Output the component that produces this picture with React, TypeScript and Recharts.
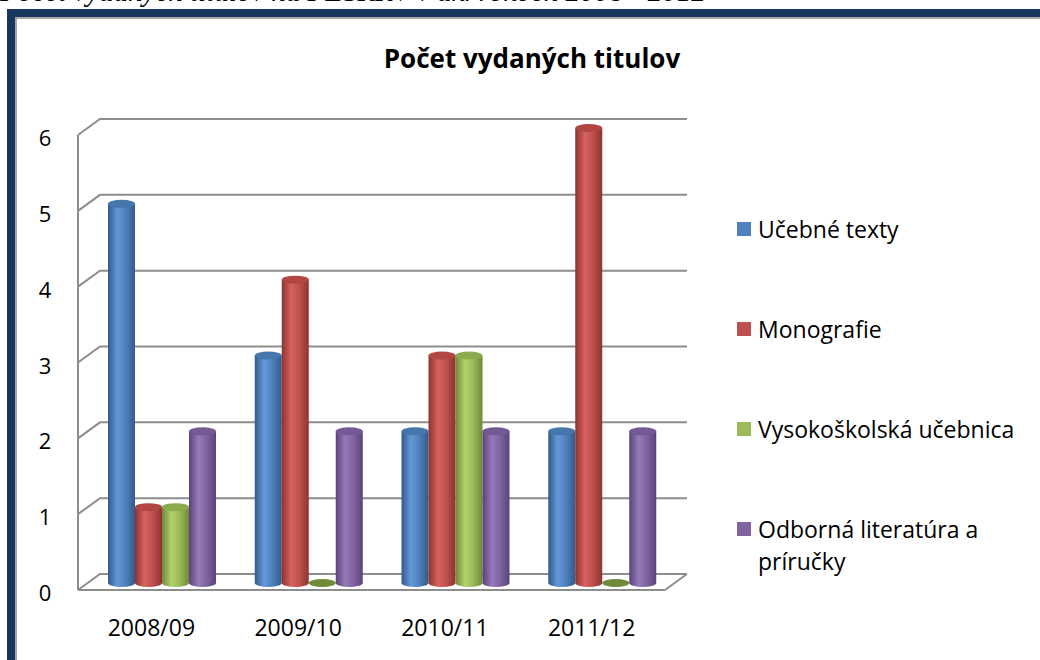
import React from 'react';
import { BarChart, Bar, XAxis, YAxis, CartesianGrid, Legend } from 'recharts';

const years = ['2008/09', '2009/10', '2010/11', '2011/12'];
const ucebneTexty = [5, 3, 2, 2];
const monografie = [1, 4, 3, 6];
const vysokoskolska = [1, 0, 3, 0];
const odborna = [2, 2, 2, 2];
const yTicks = [0, 1, 2, 3, 4, 5, 6];

const seriesNames = ['Učebné texty', 'Monografie', 'Vysokoškolská učebnica', 'Odborná literatúra a príručky'];
const seriesKeys = ['ucebne', 'mono', 'vs', 'odb'];
const baseColors = ['#4F81BD', '#C0504D', '#9BBB59', '#8064A2'];
const darkColors = ['#335a8a', '#8c3330', '#6f8a39', '#594379'];
const lightColors = ['#6398d9', '#d6625e', '#b2d16c', '#957ab8'];
const topColors = ['#4776ad', '#b24642', '#8cab4d', '#735a94'];

const data = years.map((year, i) => ({
  year,
  ucebne: ucebneTexty[i],
  mono: monografie[i],
  vs: vysokoskolska[i],
  odb: odborna[i],
}));

const W = 1040;
const H = 660;
const PLOT_TOP = 135;
const XAXIS_H = 70;
const PLOT_BOTTOM = H - XAXIS_H;
const DEPTH_X = 22;
const DEPTH_Y = 16;
const GRID = '#8d8d8d';
const FONT = '"Open Sans", "Noto Sans", sans-serif';

const GridLine = (props: any) => {
  const { x1, x2, y1 } = props;
  const isFloor = Math.abs(y1 - PLOT_BOTTOM) < 1;
  return (
    <g key={props.key}>
      <polyline
        points={`${x1},${y1} ${x1 + DEPTH_X},${y1 - DEPTH_Y} ${x2 + DEPTH_X},${y1 - DEPTH_Y}`}
        fill="none"
        stroke={GRID}
        strokeWidth={2}
      />
      {isFloor && (
        <line x1={x2} y1={y1} x2={x2 + DEPTH_X} y2={y1 - DEPTH_Y} stroke={GRID} strokeWidth={2} />
      )}
    </g>
  );
};

const Cylinder = (props: any) => {
  const { x, y, width, height, k } = props;
  const left = x + 11;
  const top = y - 7;
  const rx = width / 2;
  const ry = 4;
  if (!height || height < 1) {
    return <ellipse cx={left + rx} cy={top} rx={rx} ry={ry} fill={darkColors[k]} />;
  }
  const bottom = top + height;
  const right = left + width;
  return (
    <g>
      <path
        d={`M${left},${top} L${left},${bottom} A${rx},${ry} 0 0 0 ${right},${bottom} L${right},${top} Z`}
        fill={`url(#cyl-${k})`}
      />
      <ellipse cx={left + rx} cy={top} rx={rx} ry={ry} fill={topColors[k]} />
    </g>
  );
};

const YTick = (props: any) => {
  const { y, payload } = props;
  return (
    <text x={45} y={y + 2} textAnchor="middle" dominantBaseline="central" fontSize={22} fill="#000" fontFamily={FONT}>
      {payload.value}
    </text>
  );
};

const XTick = (props: any) => {
  const { x, payload } = props;
  return (
    <text x={x} y={PLOT_BOTTOM + 37} textAnchor="middle" dominantBaseline="central" fontSize={23} fill="#000" fontFamily={FONT}>
      {payload.value}
    </text>
  );
};

const LegendContent = (props: any) => {
  const items = [...(props.payload || [])].sort(
    (a: any, b: any) => seriesNames.indexOf(a.value) - seriesNames.indexOf(b.value)
  );
  return (
    <div style={{ fontFamily: FONT, fontSize: 23, color: '#000' }}>
      {items.map((item: any) => (
        <div key={item.value} style={{ height: 100, display: 'flex', alignItems: 'flex-start' }}>
          <span style={{ width: 14, height: 14, background: item.color, marginTop: 9, marginRight: 7, flex: 'none' }} />
          <span style={{ width: 272, lineHeight: '32px' }}>{item.value}</span>
        </div>
      ))}
    </div>
  );
};

export default function App() {
  return (
    <div style={{ position: 'fixed', left: 0, top: 0, width: W, height: H, overflow: 'hidden', background: '#fff' }}>
      <div
        style={{
          position: 'absolute',
          left: 0,
          top: -25,
          fontFamily: '"Liberation Serif", serif',
          fontStyle: 'italic',
          fontSize: 29,
          lineHeight: '32px',
          whiteSpace: 'nowrap',
        }}
      >
        Počet vydaných titulov na FESRRV v ak. rokoch 2008 - 2012
      </div>
      <div
        style={{
          position: 'absolute',
          left: 7,
          top: 9,
          width: W,
          height: H,
          borderLeft: '8px solid #17375e',
          borderTop: '8px solid #17375e',
          boxShadow: 'inset 2px 2px 0 #a6a6a6',
          background: '#fff',
        }}
      />
      <div
        style={{
          position: 'absolute',
          left: 0,
          top: 40,
          width: 1064,
          textAlign: 'center',
          fontFamily: FONT,
          fontWeight: 700,
          fontSize: 26,
          color: '#000',
        }}
      >
        Počet vydaných titulov
      </div>
      <div style={{ position: 'absolute', left: 0, top: 0 }}>
        <BarChart
          width={W}
          height={H}
          data={data}
          margin={{ top: PLOT_TOP, right: 75, bottom: 0, left: 0 }}
          barGap={0}
          barSize={27}
        >
          <defs>
            {baseColors.map((c, k) => (
              <linearGradient key={c} id={`cyl-${k}`} x1="0" y1="0" x2="1" y2="0">
                <stop offset="0%" stopColor={darkColors[k]} />
                <stop offset="35%" stopColor={lightColors[k]} />
                <stop offset="65%" stopColor={baseColors[k]} />
                <stop offset="100%" stopColor={darkColors[k]} />
              </linearGradient>
            ))}
          </defs>
          <CartesianGrid vertical={false} horizontal={GridLine} />
          <XAxis
            dataKey="year"
            height={XAXIS_H}
            tickLine={false}
            axisLine={{ stroke: GRID, strokeWidth: 2 }}
            tick={XTick}
          />
          <YAxis
            width={78}
            domain={[0, 6]}
            ticks={yTicks}
            tickLine={false}
            axisLine={{ stroke: GRID, strokeWidth: 2 }}
            tick={YTick}
          />
          <Legend
            layout="vertical"
            align="right"
            verticalAlign="middle"
            content={LegendContent}
            wrapperStyle={{ left: 737, top: 213, right: 'auto', width: 300 }}
          />
          {seriesKeys.map((key, k) => (
            <Bar
              key={key}
              dataKey={key}
              name={seriesNames[k]}
              fill={baseColors[k]}
              isAnimationActive={false}
              shape={(p: any) => <Cylinder {...p} k={k} />}
            />
          ))}
        </BarChart>
      </div>
    </div>
  );
}
